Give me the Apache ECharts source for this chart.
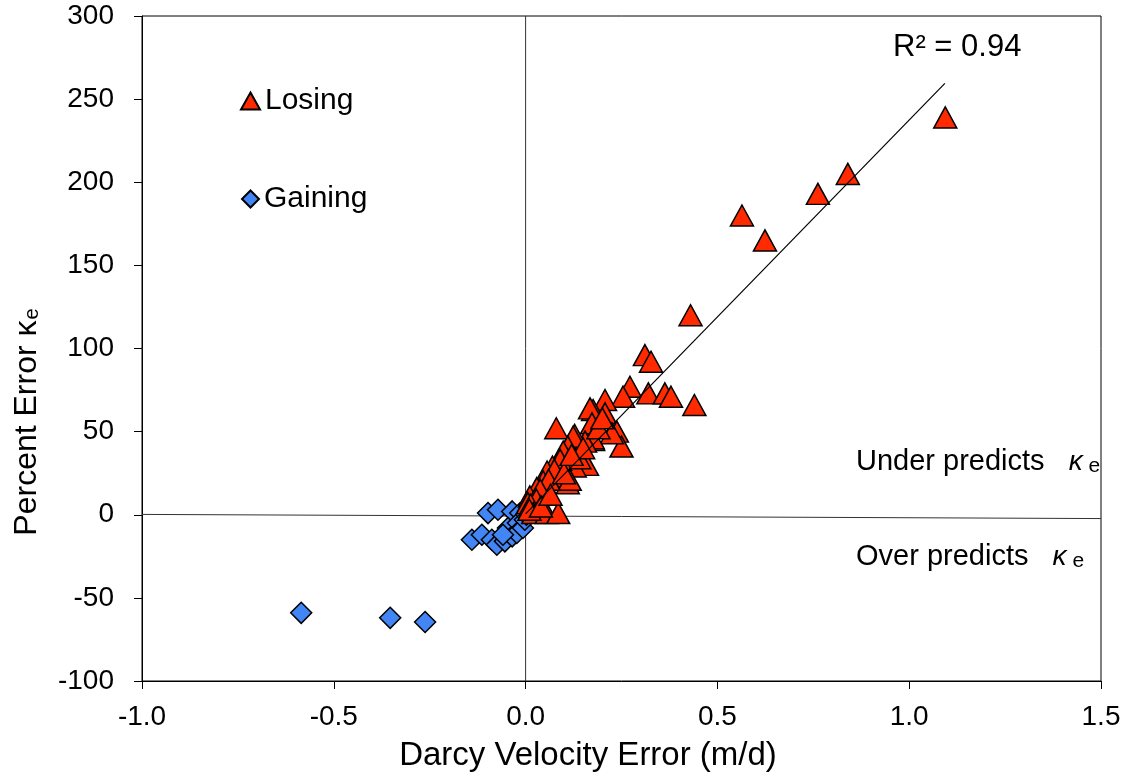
<!DOCTYPE html>
<html>
<head>
<meta charset="utf-8">
<script src="https://cdn.jsdelivr.net/npm/echarts@6/dist/echarts.min.js"></script>
<style>
  html, body { margin: 0; padding: 0; background: #fff; }
  #chart { width: 1135px; height: 776px; }
</style>
</head>
<body>
<div id="chart"></div>
<script>
// Losing reaches: [Darcy velocity error (m/d), percent error]
const losing = [
  [1.094, 239], [0.840, 205], [0.762, 193], [0.564, 180], [0.624, 165],
  [0.430, 120], [0.311, 96], [0.327, 92], [0.272, 77], [0.320, 73],
  [0.363, 73], [0.379, 71], [0.440, 66], [0.254, 71], [0.080, 52],
  [0.207, 69], [0.176, 63], [0.207, 61], [0.168, 64], [0.173, 55],
  [0.238, 50], [0.250, 41], [0.225, 49], [0.176, 45], [0.175, 46],
  [0.155, 44], [0.128, 48], [0.124, 47], [0.110, 41], [0.098, 38],
  [0.160, 30], [0.128, 29], [0.110, 19], [0.084, 23], [0.070, 29],
  [0.056, 26], [0.046, 20], [0.029, 16], [0.011, 11], [0.006, 7],
  [0.140, 34], [0.090, 33], [0.075, 27], [0.115, 21], [0.060, 21],
  [0.038, 15], [0.028, 9], [0.013, 6], [0.020, 1], [0.055, 1],
  [0.085, 1], [0.010, 3], [0.040, 5], [0.065, 12], [0.100, 25],
  [0.150, 40], [0.190, 52], [0.120, 36], [0.200, 58]
];

// Gaining reaches
const gaining = [
  [-0.585, -59], [-0.353, -62], [-0.262, -64.5],
  [-0.098, 1], [-0.072, 3], [-0.035, 2], [-0.014, 1],
  [-0.140, -15], [-0.114, -12], [-0.088, -15], [-0.075, -18],
  [-0.054, -16], [-0.046, -8], [-0.035, -13], [-0.020, -5],
  [-0.023, -11], [-0.007, -8], [-0.059, -12], [-0.002, -3], [0.002, 0]
];

// Linear trendline through the losing reaches
const trend = [[0.0, 0.5], [1.093, 259.5]];
const r2Label = 'R² = 0.94';

// Reference axes through the origin
const verticalRef = [[0, -100], [0, 300]];
const horizontalRef = [[-1.0, 0.2], [1.5, -2.3]];

const xTicks = { min: -1.0, max: 1.5, interval: 0.5 };
const yTicks = { min: -100, max: 300, interval: 50 };

const xTitle = 'Darcy Velocity Error (m/d)';
const yTitle = '{n|Percent Error κ}{s|e}';

const FONT = '"Liberation Sans", Arial, sans-serif';
const chart = echarts.init(document.getElementById('chart'));

const legendText = { fontFamily: FONT, fontSize: 30, color: '#000', lineHeight: 32 };
const noteRich = {
  a: { font: '29px ' + FONT, fill: '#000' },
  k: { font: 'italic 28px ' + FONT, fill: '#000' },
  e: { font: '21px ' + FONT, fill: '#000', padding: [9, 0, 0, 0] }
};

chart.setOption({
  backgroundColor: '#ffffff',
  animation: false,
  textStyle: { fontFamily: FONT, color: '#000' },
  grid: {
    left: 142, right: 34, top: 16, bottom: 95,
    show: true, borderColor: '#000', borderWidth: 1, backgroundColor: 'transparent'
  },
  legend: [
    {
      left: 240, top: 85, padding: 0, itemWidth: 19, itemHeight: 17,
      textStyle: legendText, data: ['Losing']
    },
    {
      left: 241, top: 183, padding: 0, itemWidth: 17, itemHeight: 17,
      textStyle: legendText, data: ['Gaining']
    }
  ],
  xAxis: {
    type: 'value',
    min: xTicks.min, max: xTicks.max, interval: xTicks.interval,
    axisLine: { show: true, onZero: false, lineStyle: { color: '#000', width: 1 } },
    axisTick: { show: true, inside: false, length: 8, lineStyle: { color: '#000' } },
    axisLabel: { fontSize: 28, color: '#000', margin: 22, formatter: v => v.toFixed(1) },
    splitLine: { show: false }
  },
  yAxis: {
    type: 'value',
    min: yTicks.min, max: yTicks.max, interval: yTicks.interval,
    axisLine: { show: true, onZero: false, lineStyle: { color: '#000', width: 1 } },
    axisTick: { show: true, inside: false, length: 8, lineStyle: { color: '#000' } },
    axisLabel: { fontSize: 28, color: '#000', margin: 28 },
    splitLine: { show: false }
  },
  graphic: [
    {
      type: 'text', x: 588, y: 756,
      style: { text: xTitle, font: '33px ' + FONT, fill: '#000', align: 'center', verticalAlign: 'middle' }
    },
    {
      type: 'text', x: 27, y: 422, rotation: Math.PI / 2,
      style: {
        text: yTitle, align: 'center', verticalAlign: 'middle',
        rich: {
          n: { font: '32px ' + FONT, fill: '#000' },
          s: { font: '20px ' + FONT, fill: '#000', padding: [10, 0, 0, 1] }
        }
      }
    },
    {
      type: 'text', x: 893, y: 47,
      style: { text: r2Label, font: '31px ' + FONT, fill: '#000', align: 'left', verticalAlign: 'middle' }
    },
    {
      type: 'text', x: 856, y: 462,
      style: { text: '{a|Under predicts   }{k|κ}{e| e}', rich: noteRich, align: 'left', verticalAlign: 'middle' }
    },
    {
      type: 'text', x: 856, y: 557,
      style: { text: '{a|Over predicts   }{k|κ}{e| e}', rich: noteRich, align: 'left', verticalAlign: 'middle' }
    }
  ],
  series: [
    {
      type: 'line', data: verticalRef, symbol: 'none', silent: true,
      lineStyle: { color: '#333', width: 1 }, z: 1
    },
    {
      type: 'line', data: horizontalRef, symbol: 'none', silent: true,
      lineStyle: { color: '#333', width: 1 }, z: 1
    },
    {
      name: 'Gaining', type: 'scatter', data: gaining,
      symbol: 'diamond', symbolSize: 21,
      itemStyle: { color: '#4285f4', borderColor: '#000', borderWidth: 1.5, opacity: 1 },
      z: 3
    },
    {
      name: 'Losing', type: 'scatter', data: losing,
      symbol: 'triangle', symbolSize: [23, 21],
      itemStyle: { color: '#ff2a00', borderColor: '#000', borderWidth: 1.5, opacity: 1 },
      z: 4
    },
    {
      type: 'line', data: trend, symbol: 'none', silent: true,
      lineStyle: { color: '#000', width: 1.2 }, z: 5
    }
  ]
});
</script>
</body>
</html>
